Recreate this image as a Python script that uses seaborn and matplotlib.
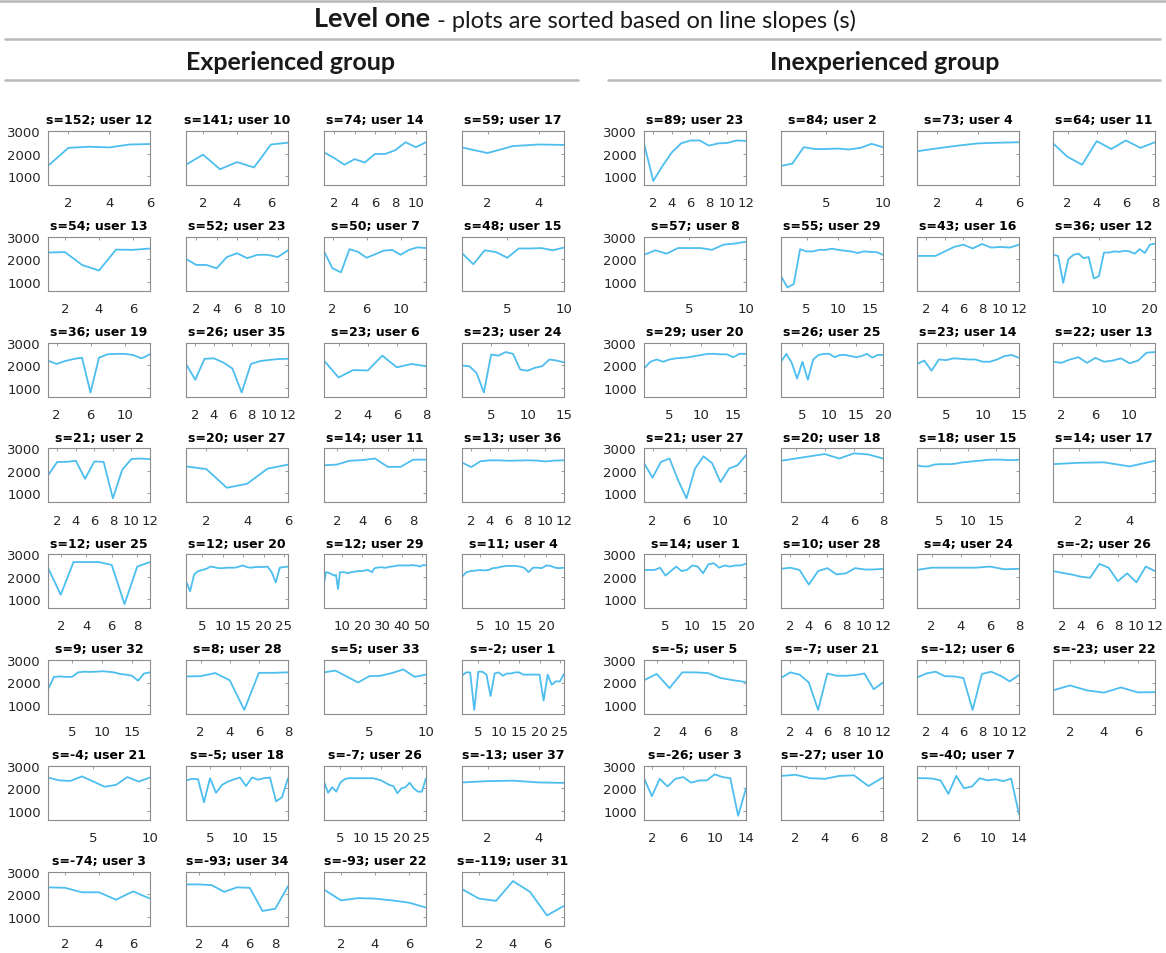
import numpy as np
import pandas as pd
import seaborn as sns
import matplotlib.pyplot as plt
from matplotlib.lines import Line2D

# experienced group (left), sorted by slope
exp_s = [152, 141, 74, 59, 54, 52, 50, 48, 36, 26, 23, 23, 21, 20, 14, 13,
         12, 12, 12, 11, 9, 8, 5, -2, -4, -5, -7, -13, -74, -93, -93, -119]
exp_user = [12, 10, 14, 17, 13, 23, 7, 15, 19, 35, 6, 24, 2, 27, 11, 36,
            25, 20, 29, 4, 32, 28, 33, 1, 21, 18, 26, 37, 3, 34, 22, 31]
exp_xticks = [[2, 4, 6], [2, 4, 6], [2, 4, 6, 8, 10], [2, 4],
              [2, 4, 6], [2, 4, 6, 8, 10], [2, 6, 10], [5, 10],
              [2, 6, 10], [2, 4, 6, 8, 10, 12], [2, 4, 6, 8], [5, 10, 15],
              [2, 4, 6, 8, 10, 12], [2, 4, 6], [2, 4, 6, 8], [2, 4, 6, 8, 10, 12],
              [2, 4, 6, 8], [5, 10, 15, 20, 25], [10, 20, 30, 40, 50], [5, 10, 15, 20],
              [5, 10, 15], [2, 4, 6, 8], [5, 10], [5, 10, 15, 20, 25],
              [5, 10], [5, 10, 15], [5, 10, 15, 20, 25], [2, 4],
              [2, 4, 6], [2, 4, 6, 8], [2, 4, 6], [2, 4, 6]]
exp_vals = [
    [1450, 2250, 2300, 2270, 2400, 2420],
    [1500, 1950, 1300, 1620, 1380, 2400, 2480],
    [2050, 1800, 1500, 1750, 1600, 1980, 1980, 2150, 2500, 2280, 2500],
    [2270, 2020, 2330, 2400, 2380],
    [2300, 2320, 1750, 1500, 2430, 2420, 2480],
    [2020, 1750, 1750, 1600, 2100, 2270, 2050, 2200, 2200, 2100, 2400],
    [2350, 1600, 1420, 2450, 2330, 2070, 2220, 2380, 2420, 2200, 2420, 2530, 2500],
    [2270, 1780, 2400, 2320, 2070, 2480, 2480, 2500, 2400, 2520],
    [2200, 2050, 2180, 2270, 2330, 780, 2330, 2480, 2500, 2500, 2450, 2300, 2480],
    [2050, 1350, 2280, 2300, 2120, 1850, 780, 2050, 2180, 2230, 2270, 2280],
    [2200, 1450, 1780, 1760, 2420, 1900, 2050, 1950],
    [1980, 1950, 1650, 780, 2470, 2420, 2580, 2500, 1800, 1750, 1880, 1950, 2250, 2200, 2120],
    [1800, 2400, 2400, 2450, 1650, 2420, 2400, 780, 2050, 2530, 2550, 2520],
    [2200, 2080, 1250, 1430, 2100, 2280],
    [2250, 2280, 2450, 2480, 2550, 2180, 2180, 2500, 2500],
    [2370, 2170, 2430, 2470, 2470, 2450, 2460, 2470, 2460, 2420, 2460, 2470],
    [2400, 1200, 2650, 2650, 2650, 2520, 780, 2450, 2650],
    [1800, 1350, 2100, 2250, 2300, 2350, 2450, 2420, 2380, 2380, 2400, 2400, 2400,
     2450, 2500, 2420, 2400, 2430, 2430, 2430, 2450, 2200, 1750, 2400, 2430, 2450],
    [1700, 2200, 2180, 2150, 2100, 2050, 2080, 1450, 2200, 2200, 2200, 2180, 2150,
     2200, 2200, 2220, 2230, 2250, 2250, 2250, 2270, 2280, 2300, 2250, 2200, 2350,
     2400, 2400, 2420, 2420, 2400, 2400, 2420, 2450, 2450, 2470, 2480, 2500, 2500,
     2500, 2500, 2500, 2500, 2500, 2520, 2500, 2500, 2480, 2450, 2500, 2520, 2500],
    [2000, 2200, 2250, 2270, 2300, 2280, 2300, 2380, 2400, 2450, 2480, 2480, 2480,
     2450, 2400, 2200, 2400, 2400, 2380, 2500, 2480, 2400, 2380, 2400],
    [1700, 2250, 2270, 2250, 2250, 2450, 2480, 2470, 2480, 2500, 2480, 2450, 2380,
     2350, 2300, 2080, 2400, 2450],
    [2270, 2280, 2420, 2100, 780, 2430, 2430, 2450],
    [2450, 2530, 2270, 2000, 2280, 2300, 2420, 2580, 2250, 2350],
    [2300, 2450, 2450, 780, 2480, 2480, 2350, 1400, 2400, 2450, 2300, 2400, 2400,
     2450, 2450, 2350, 2350, 2350, 2350, 2350, 1200, 2350, 1900, 2050, 2050, 2380],
    [2480, 2350, 2330, 2530, 2300, 2070, 2150, 2500, 2300, 2480],
    [2350, 2420, 2400, 1380, 2450, 1800, 2150, 2300, 2400, 2480, 2100, 2480, 2380,
     2450, 2480, 1420, 1600, 2450],
    [2300, 1800, 2050, 1850, 2250, 2400, 2450, 2450, 2450, 2450, 2450, 2450, 2450,
     2400, 2350, 2250, 2150, 2100, 1780, 2000, 2050, 2250, 2000, 1850, 1850, 2450],
    [2260, 2320, 2340, 2260, 2240],
    [2300, 2280, 2080, 2080, 1750, 2120, 1800],
    [2430, 2430, 2400, 2100, 2300, 2280, 1250, 1350, 2350],
    [2200, 1720, 1820, 1800, 1720, 1620, 1400],
    [2220, 1800, 1700, 2580, 2100, 1050, 1480],
]

# inexperienced group (right)
inexp_s = [89, 84, 73, 64, 57, 55, 43, 36, 29, 26, 23, 22, 21, 20, 18, 14,
           14, 10, 4, -2, -5, -7, -12, -23, -26, -27, -40]
inexp_user = [23, 2, 4, 11, 8, 29, 16, 12, 20, 25, 14, 13, 27, 18, 15, 17,
              1, 28, 24, 26, 5, 21, 6, 22, 3, 10, 7]
inexp_xticks = [[2, 4, 6, 8, 10, 12], [5, 10], [2, 4, 6], [2, 4, 6, 8],
                [5, 10], [5, 10, 15], [2, 4, 6, 8, 10, 12], [10, 20],
                [5, 10, 15], [5, 10, 15, 20], [5, 10, 15], [2, 6, 10],
                [2, 6, 10], [2, 4, 6, 8], [5, 10, 15], [2, 4],
                [5, 10, 15, 20], [2, 4, 6, 8, 10, 12], [2, 4, 6, 8], [2, 4, 6, 8, 10, 12],
                [2, 4, 6, 8], [2, 4, 6, 8, 10, 12], [2, 4, 6, 8, 10, 12], [2, 4, 6],
                [2, 6, 10, 14], [2, 4, 6, 8], [2, 6, 10, 14]]
inexp_vals = [
    [2450, 780, 1450, 2050, 2450, 2580, 2580, 2350, 2450, 2470, 2580, 2560],
    [1450, 1550, 2280, 2200, 2200, 2220, 2180, 2250, 2430, 2280],
    [2100, 2230, 2350, 2450, 2480, 2500],
    [2450, 1850, 1500, 2550, 2200, 2580, 2250, 2500],
    [2200, 2400, 2250, 2500, 2500, 2500, 2420, 2650, 2700, 2780],
    [1250, 750, 900, 2450, 2350, 2350, 2420, 2420, 2470, 2420, 2380, 2350, 2280,
     2350, 2330, 2320, 2200],
    [2150, 2150, 2150, 2350, 2550, 2650, 2480, 2680, 2520, 2550, 2520, 2650],
    [2200, 2150, 950, 2000, 2200, 2250, 2050, 2100, 1150, 1250, 2300, 2300, 2350,
     2330, 2380, 2350, 2250, 2450, 2280, 2650, 2700],
    [1850, 2150, 2250, 2150, 2250, 2300, 2320, 2350, 2400, 2450, 2500, 2500, 2480,
     2480, 2350, 2500, 2500],
    [2150, 2500, 2100, 1400, 2150, 1350, 2250, 2450, 2500, 2500, 2350, 2450, 2450,
     2400, 2350, 2400, 2500, 2330, 2450, 2450],
    [2050, 2200, 1750, 2250, 2220, 2300, 2280, 2250, 2250, 2150, 2150, 2250, 2400,
     2450, 2320],
    [2150, 2100, 2250, 2350, 2100, 2320, 2150, 2200, 2300, 2080, 2200, 2550, 2580],
    [2350, 1700, 2400, 2550, 1600, 780, 2100, 2650, 2350, 1500, 2100, 2250, 2700],
    [2450, 2550, 2650, 2750, 2550, 2780, 2730, 2550],
    [2250, 2200, 2200, 2280, 2300, 2300, 2300, 2330, 2380, 2400, 2430, 2450, 2480,
     2500, 2500, 2500, 2480, 2480, 2500],
    [2300, 2360, 2380, 2200, 2450],
    [2300, 2300, 2300, 2400, 2050, 2250, 2450, 2250, 2300, 2500, 2450, 2150, 2550,
     2600, 2400, 2500, 2450, 2500, 2500, 2580],
    [2350, 2400, 2300, 1650, 2250, 2380, 2100, 2150, 2380, 2320, 2320, 2350],
    [2300, 2400, 2400, 2400, 2400, 2450, 2330, 2350],
    [2250, 2170, 2100, 2000, 1950, 2570, 2400, 1800, 2150, 1750, 2450, 2250],
    [2100, 2380, 1750, 2450, 2450, 2420, 2200, 2100, 2020],
    [2200, 2450, 2350, 2000, 780, 2400, 2300, 2300, 2330, 2400, 1700, 2000],
    [2220, 2400, 2480, 2280, 2270, 2200, 780, 2380, 2480, 2300, 2050, 2330],
    [1650, 1870, 1650, 1550, 1780, 1560, 1570],
    [2450, 1650, 2420, 2080, 2420, 2500, 2250, 2350, 2350, 2620, 2500, 2450, 780, 2000],
    [2550, 2600, 2450, 2420, 2550, 2580, 2100, 2480],
    [2450, 2450, 2430, 2350, 1750, 2550, 2000, 2080, 2450, 2350, 2400, 2320, 2430, 850],
]

W, H = 1166, 954
sns.set_style('white')
plt.rcParams['font.family'] = ['DejaVu Sans']

LINE = '#4DBEEE'
EDGE = '#8c8c8c'
TXT = '#262626'

fig = plt.figure(figsize=(W / 100, H / 100), dpi=100)

AW, AH = 102, 54
TOP0, PITCH = 132, 105.8


def draw_group(lefts, slopes, users, vals, ticks):
    for i, (s, u, v, t) in enumerate(zip(slopes, users, vals, ticks)):
        r, c = divmod(i, 4)
        top = TOP0 + r * PITCH
        ax = fig.add_axes([lefts[c] / W, 1 - (top + AH) / H, AW / W, AH / H])
        df = pd.DataFrame({'trial': np.arange(1, len(v) + 1), 'time': v})
        sns.lineplot(data=df, x='trial', y='time', ax=ax, color=LINE, lw=1.3)
        ax.set_xlim(1, len(v))
        ax.set_ylim(600, 3000)
        ax.set_xticks(t)
        ax.set_yticks([1000, 2000, 3000])
        ax.set_xlabel('')
        ax.set_ylabel('')
        ax.set_title(f's={s}; user {u}', fontsize=9, fontweight='bold',
                     color='black', pad=5.5)
        if c != 0:
            ax.set_yticklabels([])
        ax.tick_params(direction='in', length=2.5, width=0.6, top=True, right=True,
                       color=EDGE, labelcolor=TXT, labelsize=9.5)
        ax.tick_params(axis='x', pad=8)
        ax.tick_params(axis='y', pad=5)
        for sp in ax.spines.values():
            sp.set_color(EDGE)
            sp.set_linewidth(0.8)


draw_group([48, 186, 324, 462], exp_s, exp_user, exp_vals, exp_xticks)
draw_group([644, 781, 917, 1053], inexp_s, inexp_user, inexp_vals, inexp_xticks)

# header
HEAD = ['Lato', 'DejaVu Sans']
fig.text(430 / W, 1 - 19 / H, 'Level one', ha='right', va='center',
         fontsize=19.5, fontweight='bold', family=HEAD, color='#1a1a1a')
fig.text(437 / W, 1 - 21 / H, '- plots are sorted based on line slopes (s)',
         ha='left', va='center', fontsize=17, family=HEAD, color='#1a1a1a')
fig.text(290 / W, 1 - 62 / H, 'Experienced group', ha='center', va='center',
         fontsize=18, fontweight='bold', family=HEAD, color='#1a1a1a')
fig.text(885 / W, 1 - 62 / H, 'Inexperienced group', ha='center', va='center',
         fontsize=18, fontweight='bold', family=HEAD, color='#1a1a1a')

GREY = '#b8b8b8'
for x0, x1, y in [(0, 1166, 2), (5, 1160, 40), (5, 578, 81), (608, 1160, 81)]:
    fig.add_artist(Line2D([x0 / W, x1 / W], [1 - y / H, 1 - y / H],
                          color=GREY, lw=1.8, transform=fig.transFigure))

fig.savefig('out.png', dpi=100)
